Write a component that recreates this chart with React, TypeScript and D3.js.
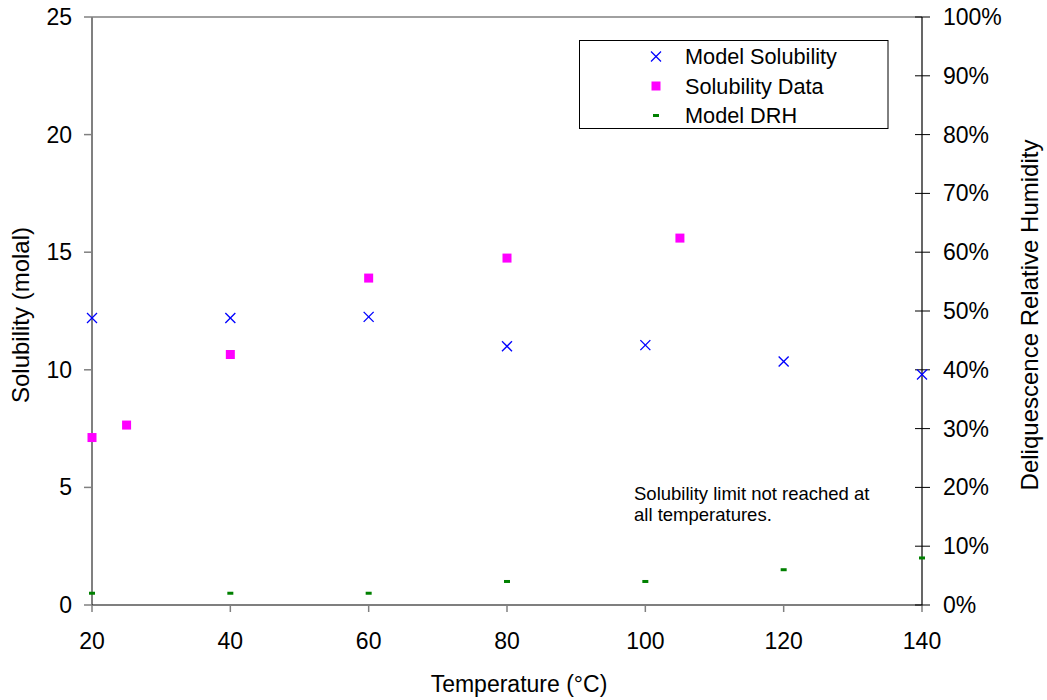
import React from "react";
import * as d3 from "d3";

const modelTemps = [20, 40, 60, 80, 100, 120, 140];
const modelSolubility = [12.2, 12.2, 12.25, 11.0, 11.05, 10.35, 9.8];
const dataTemps = [20, 25, 40, 60, 80, 105];
const solubilityData = [7.12, 7.65, 10.65, 13.9, 14.75, 15.6];
const modelDRH = [0.02, 0.02, 0.02, 0.04, 0.04, 0.06, 0.08];
const xTicks = [20, 40, 60, 80, 100, 120, 140];
const yTicks = [0, 5, 10, 15, 20, 25];
const y2Ticks = [0, 0.1, 0.2, 0.3, 0.4, 0.5, 0.6, 0.7, 0.8, 0.9, 1.0];
const legendLabels = ["Model Solubility", "Solubility Data", "Model DRH"];

const W = 1047, H = 700;
const L = 92, R = 922, T = 17, B = 605;
const font = "Arial, 'Liberation Sans', sans-serif";

export default function App() {
  const x = d3.scaleLinear().domain([20, 140]).range([L, R]);
  const y = d3.scaleLinear().domain([0, 25]).range([B, T]);
  const y2 = d3.scaleLinear().domain([0, 1]).range([B, T]);
  const pct = d3.format(".0%");

  const cross = (cx: number, cy: number, k: string) => (
    <g key={k} stroke="#0000ff" strokeWidth={1.3}>
      <line x1={cx - 5} y1={cy - 5} x2={cx + 5} y2={cy + 5} />
      <line x1={cx - 5} y1={cy + 5} x2={cx + 5} y2={cy - 5} />
    </g>
  );
  const square = (cx: number, cy: number, k: string) => (
    <rect key={k} x={cx - 4.5} y={cy - 4.5} width={9} height={9} fill="#ff00ff" />
  );
  const dash = (cx: number, cy: number, k: string) => (
    <rect key={k} x={cx - 3} y={cy - 1.5} width={6} height={3} fill="#008000" />
  );

  return (
    <svg width={W} height={H} style={{ position: "absolute", left: 0, top: 0, background: "#fff" }} fontFamily={font}>
      {/* frame */}
      <line x1={L} y1={T} x2={R} y2={T} stroke="#808080" strokeWidth={1.5} />
      <line x1={L} y1={T} x2={L} y2={B} stroke="#808080" strokeWidth={2} />
      <line x1={L} y1={B} x2={R} y2={B} stroke="#000" strokeWidth={1.2} />
      <line x1={R} y1={T} x2={R} y2={B} stroke="#000" strokeWidth={1.2} />

      {/* left axis */}
      {yTicks.map((t) => (
        <g key={"y" + t}>
          <line x1={L - 8} x2={L} y1={y(t)} y2={y(t)} stroke="#808080" strokeWidth={1.5} />
          <text x={72} y={y(t)} dy="0.35em" textAnchor="end" fontSize={23} fill="#000">{t}</text>
        </g>
      ))}
      {/* bottom axis */}
      {xTicks.map((t) => (
        <g key={"x" + t}>
          <line x1={x(t)} x2={x(t)} y1={B} y2={B + 7} stroke="#808080" strokeWidth={1.5} />
          <text x={x(t)} y={649} textAnchor="middle" fontSize={23} fill="#000">{t}</text>
        </g>
      ))}
      {/* right axis */}
      {y2Ticks.map((t) => (
        <g key={"r" + t}>
          <line x1={R - 7} x2={R + 8} y1={y2(t)} y2={y2(t)} stroke="#000" strokeWidth={1} />
          <text x={943} y={y2(t)} dy="0.35em" textAnchor="start" fontSize={23} fill="#000">{pct(t)}</text>
        </g>
      ))}

      {/* axis titles */}
      <text x={519} y={692} textAnchor="middle" fontSize={23} fill="#000">Temperature (°C)</text>
      <text transform={`translate(29,315) rotate(-90)`} textAnchor="middle" fontSize={24} fill="#000">Solubility (molal)</text>
      <text transform={`translate(1038,315) rotate(-90)`} textAnchor="middle" fontSize={24} fill="#000">Deliquescence Relative Humidity</text>

      {/* data */}
      {dataTemps.map((t, i) => square(x(t), y(solubilityData[i]), "s" + i))}
      {modelTemps.map((t, i) => cross(x(t), y(modelSolubility[i]), "c" + i))}
      {modelTemps.map((t, i) => dash(x(t), y2(modelDRH[i]), "d" + i))}

      {/* annotation */}
      <text x={634} y={500} fontSize={18.5} fill="#000">Solubility limit not reached at</text>
      <text x={634} y={521} fontSize={18.5} fill="#000">all temperatures.</text>

      {/* legend */}
      <rect x={579.5} y={40.5} width={308.5} height={88} fill="#fff" stroke="#000" strokeWidth={1} />
      {legendLabels.map((lab, i) => {
        const cy = 56.5 + i * 29.5;
        const mk = i === 0 ? cross(656, cy, "lc") : i === 1 ? square(656, cy, "ls") : dash(656, cy, "ld");
        return (
          <g key={lab}>
            {mk}
            <text x={685} y={cy} dy="0.36em" fontSize={21.7} fill="#000">{lab}</text>
          </g>
        );
      })}
    </svg>
  );
}
